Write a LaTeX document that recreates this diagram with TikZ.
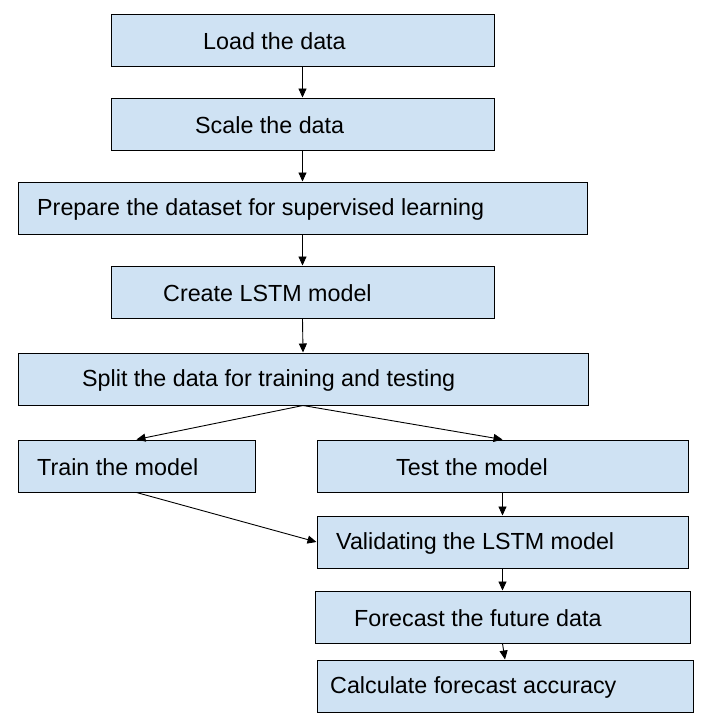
\documentclass[tikz,border=0pt]{standalone}
\usepackage{fontspec}
\setmainfont{Liberation Sans}
\usetikzlibrary{arrows.meta}
\definecolor{boxblue}{RGB}{207,226,243}
\begin{document}
\begin{tikzpicture}[x=1pt,y=-1pt,
  box/.style={draw=black,line width=1pt,fill=boxblue,rectangle,inner sep=0pt,minimum height=52pt},
  lbl/.style={anchor=west,inner sep=0pt,font=\fontsize{23.3}{27}\selectfont},
  arr/.style={-{Triangle[length=9pt,width=8pt]},line width=0.9pt}]
\useasboundingbox (0,0) rectangle (712,724);
\node[box,minimum width=383pt] (load) at (302.5,40) {};
\node[lbl] (tload) at (203,41) {Load the data};
\node[box,minimum width=383pt] (scale) at (302.5,124) {};
\node[lbl] (tscale) at (195,125) {Scale the data};
\node[box,minimum width=569pt] (prep) at (302.5,208) {};
\node[lbl] (tprep) at (37,209) {Prepare the dataset for supervised learning};
\node[box,minimum width=383pt] (create) at (302.5,292) {};
\node[lbl] (tcreate) at (163,293) {Create LSTM model};
\node[box,minimum width=570pt] (split) at (303,379) {};
\node[lbl] (tsplit) at (82,380) {Split the data for training and testing};
\node[box,minimum width=237pt] (train) at (136.5,466) {};
\node[lbl] (ttrain) at (37,467) {Train the model};
\node[box,minimum width=371pt] (test) at (502.5,466) {};
\node[lbl] (ttest) at (396,467) {Test the model};
\node[box,minimum width=371pt] (valid) at (502.5,542) {};
\node[lbl] (tvalid) at (336,543) {Validating the LSTM model};
\node[box,minimum width=375pt] (fore) at (502.5,617) {};
\node[lbl] (tfore) at (354,618) {Forecast the future data};
\node[box,minimum width=376pt] (calc) at (505,686) {};
\node[lbl] (tcalc) at (330,687) {Calculate forecast accuracy};
\draw[arr] (load.south) -- (scale.north);
\draw[arr] (scale.south) -- (prep.north);
\draw[arr] (prep.south) -- (create.north);
\draw[arr] (create.south) -- (split.north);
\draw[arr] (split.south) -- (train.north);
\draw[arr] (split.south) -- (test.north);
\draw[arr] (train.south) -- (valid.west);
\draw[arr] (test.south) -- (valid.north);
\draw[arr] (valid.south) -- (fore.north);
\draw[arr] (fore.south) -- (calc.north);
\end{tikzpicture}
\end{document}
